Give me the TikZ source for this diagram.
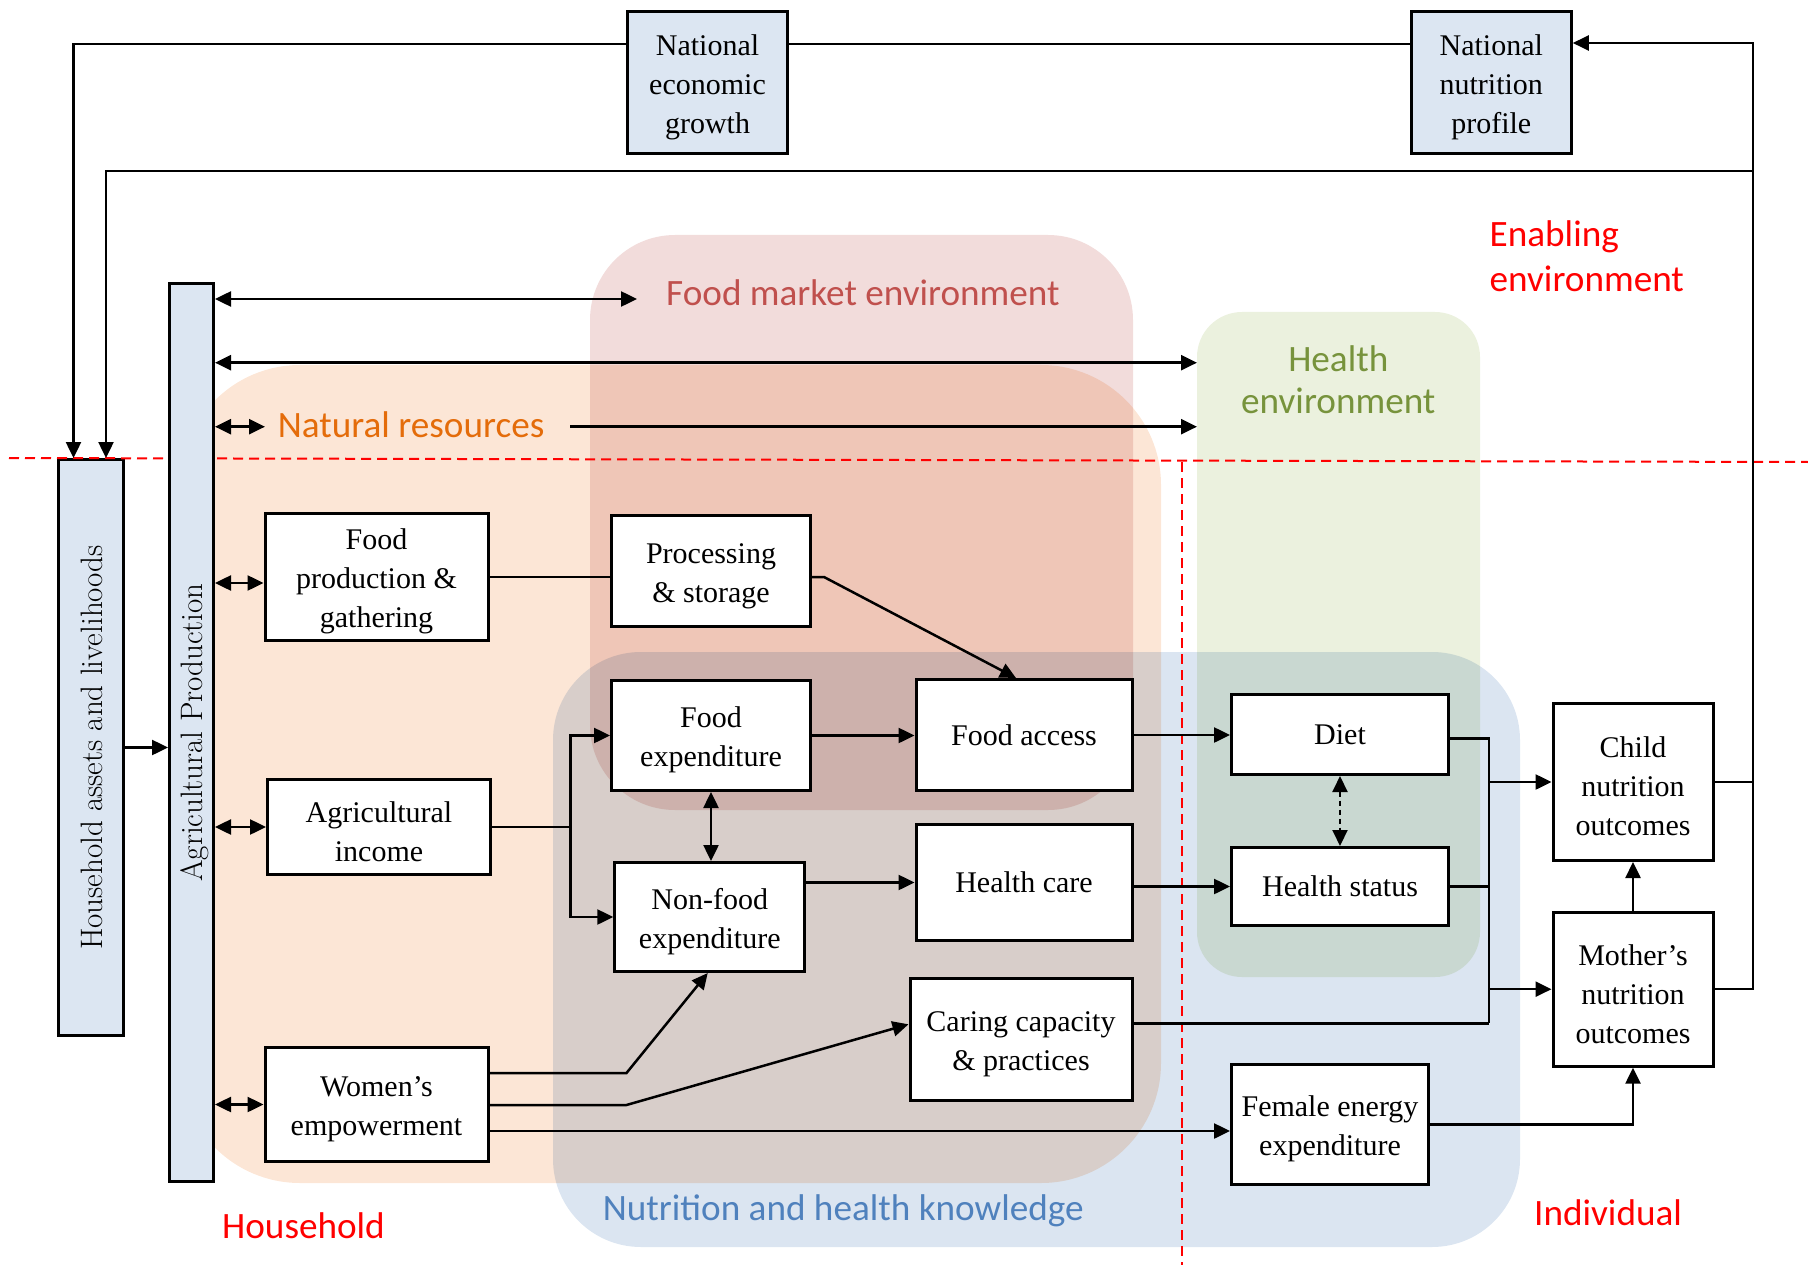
\documentclass[tikz,border=0pt]{standalone}
\usepackage{fontspec}
\newfontfamily\boxfont{Liberation Serif}
\newfontfamily\labelfont{Carlito}
\usetikzlibrary{arrows.meta}

\definecolor{boxblue}{HTML}{DCE6F2}
\definecolor{fmfill}{HTML}{F2DCDB}
\definecolor{nrfill}{HTML}{FCE6D6}
\definecolor{hefill}{HTML}{EBF1DE}
\definecolor{nkfill}{HTML}{DBE5F1}
\definecolor{fmtext}{HTML}{C0504D}
\definecolor{nrtext}{HTML}{E46C0A}
\definecolor{hetext}{HTML}{77933C}
\definecolor{nktext}{HTML}{4F81BD}
\definecolor{levelred}{HTML}{FF0000}

% taller first line, so that stacked box texts sit a little lower
\newcommand\firststrut{\rule{0pt}{30pt}}

\tikzset{
  box/.style={draw=black, line width=3pt, fill=white, inner sep=0pt,
    align=center, font=\boxfont\fontsize{30}{39}\selectfont},
  nbox/.style={box, fill=boxblue},
  region/.style={draw=none, inner sep=0pt, outer sep=0pt, rectangle},
  conn/.style={line width=2.5pt},
  arr/.style={conn, -{Triangle[length=16pt,width=15pt]}},
  darr/.style={conn, {Triangle[length=16pt,width=15pt]}-{Triangle[length=16pt,width=15pt]}},
  lbl/.style={font=\labelfont\fontsize{37.2}{44}\selectfont, inner sep=0pt, anchor=base west},
  clbl/.style={lbl, anchor=base},
  sidetext/.style={rotate=90, inner sep=0pt, font=\fontsize{31}{36}\selectfont},
  leveldash/.style={draw=levelred, line width=2pt, dash pattern=on 10pt off 6pt},
}

\begin{document}
\begin{tikzpicture}[x=1pt, y=-1pt]
\useasboundingbox (0,0) rectangle (1808,1265);

% shaded environments, multiplied where they overlap
\begin{scope}[blend mode=multiply]
  \node[region, fill=fmfill, rounded corners=85pt, minimum width=543pt, minimum height=575pt] (fmreg) at (861.5,522.5) {};
  \node[region, fill=nrfill, rounded corners=120pt, minimum width=981pt, minimum height=818pt] (nrreg) at (670.5,774) {};
  \node[region, fill=hefill, rounded corners=45pt, minimum width=283pt, minimum height=665pt] (hereg) at (1338.5,644.5) {};
  \node[region, fill=nkfill, rounded corners=88pt, minimum width=967pt, minimum height=595pt] (nkreg) at (1036.5,949.5) {};
\end{scope}

% household column
\node[nbox, minimum width=65pt, minimum height=576pt] (hh) at (91,747.5) {};
\node[sidetext] (hhtext) at ([xshift=1pt]hh.center) {Household assets and livelihoods};

% level boundaries
\coordinate (hl1) at (9,458);
\coordinate (hl2) at (1808,462);
\coordinate (vl1) at (1182,462);
\coordinate (vl2) at (1182,1265);
\draw[leveldash] (hl1) -- (hl2);
\draw[leveldash] (vl1) -- (vl2);

% agricultural production bar
\node[nbox, minimum width=44pt, minimum height=898pt] (ap) at (191.5,732.5) {};
\node[sidetext] (aptext) at ([xshift=3pt]ap.center) {Agricultural Production};

% national level
\node[nbox, minimum width=160pt, minimum height=142pt] (neg) at (707.5,82.5) {\firststrut National\\economic\\growth};
\node[nbox, minimum width=160pt, minimum height=142pt] (nnp) at (1491.3,82.5) {\firststrut National\\nutrition\\profile};

% household level
\node[box, minimum width=223pt, minimum height=127pt] (fp) at (376.5,577) {\firststrut Food\\production \&\\gathering};
\node[box, minimum width=199pt, minimum height=111pt] (proc) at (711,571) {\firststrut Processing\\\& storage};
\node[box, minimum width=223pt, minimum height=95pt] (ai) at (379,827) {\firststrut Agricultural\\income};
\node[box, minimum width=199pt, minimum height=110pt] (fe) at (711,735.5) {\firststrut Food\\expenditure};
\node[box, minimum width=190pt, minimum height=109pt] (nfe) at (709.75,917) {\firststrut Non-food\\expenditure};
\node[box, minimum width=223pt, minimum height=114pt] (we) at (376.5,1104.5) {\firststrut Women’s\\empowerment};
\node[box, minimum width=216pt, minimum height=111pt] (fa) at (1024,735) {Food access};
\node[box, minimum width=216pt, minimum height=116pt] (hc) at (1024,882.5) {Health care};
\node[box, minimum width=222pt, minimum height=122pt] (cc) at (1021,1039.3) {\firststrut Caring capacity\\\& practices};

% individual level
\node[box, minimum width=217pt, minimum height=80pt] (diet) at (1340,734.5) {Diet};
\node[box, minimum width=217pt, minimum height=78pt] (hs) at (1340,886.5) {Health status};
\node[box, minimum width=197pt, minimum height=120pt] (fee) at (1330,1124.5) {\firststrut Female energy\\expenditure};
\node[box, minimum width=160pt, minimum height=157pt] (child) at (1633,782) {\firststrut Child\\nutrition\\outcomes};
\node[box, minimum width=160pt, minimum height=154pt] (mother) at (1633,989.2) {\firststrut Mother’s\\nutrition\\outcomes};

% environment and level labels
\node[lbl, text=fmtext] (fmlbl) at (666,305.7) {Food market environment};
\node[lbl, text=nrtext] (nrlbl) at (277.7,437.3) {Natural resources};
\node[clbl, text=hetext] (helbla) at (1338.3,371) {Health};
\node[clbl, text=hetext] (helblb) at (1338.3,413.3) {environment};
\node[lbl, text=nktext] (nklbl) at (602.7,1220) {Nutrition and health knowledge};
\node[lbl, text=levelred] (enlbla) at (1489.5,246.7) {Enabling};
\node[lbl, text=levelred] (enlblb) at (1489.5,291.7) {environment};
\node[lbl, text=levelred] (hhlbl) at (222,1238.3) {Household};
\node[lbl, text=levelred] (indlbl) at (1534,1225) {Individual};

% feedback loops through the national level
\coordinate (toprow) at (0,44);
\coordinate (rail) at (1753,43);
\coordinate (midrow) at (1753,171);
\draw[conn] (nnp.west |- toprow) -- (neg.east |- toprow);
\draw[arr] (neg.west |- toprow) -| ([xshift=-17.5pt]hh.north);
\draw[arr] (mother.east) -| (rail) -- (nnp.east |- rail);
\draw[conn] (child.east) -- (child.east -| rail);
\draw[arr] (midrow) -| ([xshift=15pt]hh.north);

% household assets feed agricultural production
\draw[arr] (hh.east) -- (hh.east -| ap.west);

% links between agricultural production and the environments
\coordinate (fmtip) at (637,299);
\coordinate (herow) at (0,362.7);
\coordinate (nrrow) at (0,426.7);
\coordinate (nrtail) at (570,426.7);
\draw[darr] (ap.east |- fmtip) -- (fmtip);
\draw[darr] (ap.east |- herow) -- (hereg.west |- herow);
\draw[darr] (ap.east |- nrrow) -- ([xshift=-12.7pt]nrlbl.west |- nrrow);
\draw[arr] (nrtail) -- (hereg.west |- nrtail);

% agricultural production pathways
\path ([yshift=-6pt]fp.west) coordinate (fpin);
\draw[darr] (ap.east |- fpin) -- (fpin);
\draw[darr] (ap.east |- ai.west) -- (ai.west);
\draw[darr] (ap.east |- we.west) -- (we.west);

\draw[conn] (fp.east) -- (fp.east -| proc.west);
\draw[arr] (proc.east |- fp.east) -- ++(12,0) -- ([xshift=-8pt]fa.north);

\draw[arr] (ai.east) -- ++(78.5,0) |- (fe.west);
\draw[arr] (ai.east) -- ++(78.5,0) |- (nfe.west);
\draw[darr] (fe.south) -- (fe.south |- nfe.north);

\draw[arr] (fe.east) -- (fe.east -| fa.west);
\draw[arr] (hc.west -| nfe.east) -- (hc.west);
\draw[arr] (fa.east) -- (fa.east -| diet.west);
\draw[arr] (hs.west -| hc.east) -- (hs.west);
\draw[darr, line width=2pt, dash pattern=on 5pt off 4pt] (diet.south) -- (hs.north);

% individual outcomes
\coordinate (jx) at (1489,0);
\path ([yshift=-4pt]diet.east) coordinate (dietout)
      ([yshift=16pt]cc.east) coordinate (ccout);
\draw[conn] (dietout) -- (dietout -| jx) -- (jx |- ccout);
\draw[conn] (hs.east) -- (hs.east -| jx);
\draw[conn] (ccout) -- (ccout -| jx);
\draw[arr] (jx |- child.west) -- (child.west);
\draw[arr] (jx |- mother.west) -- (mother.west);

% women's empowerment pathways
\path ([yshift=31.5pt]we.east) coordinate (we1)
      ([yshift=-0.5pt]we.east) coordinate (we2)
      ([yshift=-26.5pt]we.east) coordinate (we3);
\draw[arr] (we1) -- ++(137,0) -- ([xshift=-2pt]nfe.south);
\draw[arr] (we2) -- ++(137,0) -- ([yshift=15pt]cc.west);
\draw[arr] (we3) -- (we3 -| fee.west);
\draw[arr] (fee.east) -| (mother.south);
\draw[arr] (mother.north) -- (child.south);
\end{tikzpicture}
\end{document}
